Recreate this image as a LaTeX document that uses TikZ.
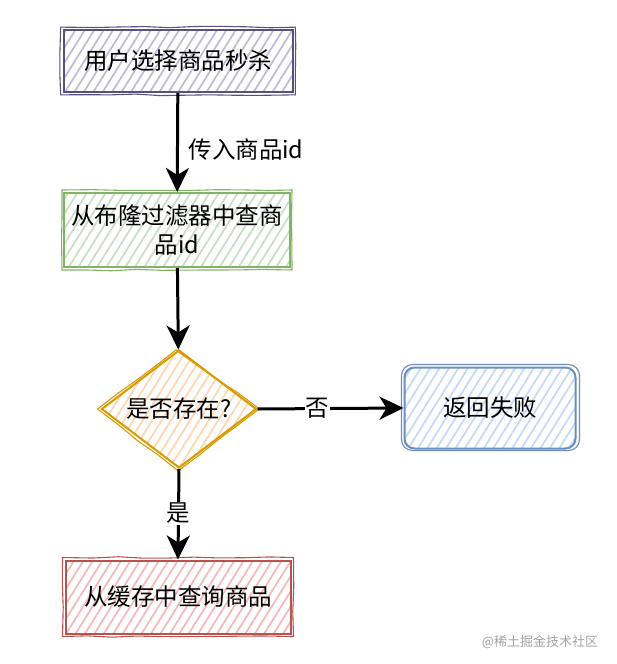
\documentclass[tikz,border=0pt]{standalone}
\usepackage{fontspec}
\setmainfont{Noto Sans CJK SC}
\usetikzlibrary{patterns.meta,arrows.meta,shapes.geometric,decorations.pathmorphing}
\definecolor{pD}{HTML}{56517E}\definecolor{pF}{HTML}{BEB9DA}
\definecolor{gD}{HTML}{82B366}\definecolor{gF}{HTML}{C3E0C0}
\definecolor{oD}{HTML}{D79B00}\definecolor{oF}{HTML}{FFD4AE}
\definecolor{bD}{HTML}{6C8EBF}\definecolor{bF}{HTML}{C2D9F8}
\definecolor{rD}{HTML}{B85450}\definecolor{rF}{HTML}{F3B8B5}
\definecolor{wm}{HTML}{A3A3A3}
\tikzset{
  x=1pt, y=-1pt,
  boxbase/.style={inner sep=0pt, line width=2pt, font=\fontsize{23.5}{29}\selectfont, align=center},
  hatch/.style={pattern={Lines[angle=58,distance=8pt,line width=1.7pt]}, pattern color=#1},
  sk/.style={draw=#1, line width=1.1pt, decorate, decoration={random steps, segment length=25pt, amplitude=0.8pt}},
  sk2/.style={draw=#1, line width=1.1pt},
  arr/.style={line width=3pt, -{Stealth[length=24pt,width=23pt,inset=7pt]}},
  lbl/.style={fill=white, inner sep=1pt, font=\fontsize{23.5}{29}\selectfont},
}
\begin{document}
\begin{tikzpicture}
\useasboundingbox (0,0) rectangle (616,664);
% box 1
\node[boxbase, draw=pD, hatch=pF, minimum width=229pt, minimum height=62pt] (n1) at (178,61) {用户选择商品秒杀};
\draw[sk=pD] ([shift={(-2,-2)}]n1.north west) rectangle ([shift={(2,2)}]n1.south east);
% box 2
\node[boxbase, draw=gD, hatch=gF, minimum width=226pt, minimum height=74pt] (n2) at (177,230) {从布隆过滤器中查商\\品id};
\draw[sk=gD] ([shift={(-1,-2)}]n2.north west) rectangle ([shift={(1,2)}]n2.south east);
% diamond
\node[boxbase, diamond, aspect=1.31, draw=oD, hatch=oF, minimum width=155pt, minimum height=118pt] (d) at (179,409) {\makebox[0pt]{是否存在?}};
\draw[sk=oD] ([shift={(-3,1)}]d.north) -- ([shift={(2,0)}]d.east) -- ([shift={(-1,2)}]d.south) -- ([shift={(-3,0)}]d.west) -- cycle;
% box 3
\node[boxbase, draw=bD, hatch=bF, rounded corners=10pt, minimum width=171pt, minimum height=81pt] (n3) at (490,408) {返回失败};
\draw[sk2=bD, rounded corners=11pt] ([shift={(-2,-2)}]n3.north west) rectangle ([shift={(3,1)}]n3.south east);
% box 4
\node[boxbase, draw=rD, hatch=rF, minimum width=225pt, minimum height=73pt] (n4) at (178,597) {从缓存中查询商品};
\draw[sk=rD] ([shift={(-2,-2)}]n4.north west) rectangle ([shift={(2,2)}]n4.south east);
% arrows
\draw[arr] (n1) -- (n2);
\node[anchor=west, font=\fontsize{23.5}{29}\selectfont] (l1) at (185,150) {传入商品id};
\draw[arr] (n2) -- (d);
\draw[arr] (d.east) -- node[lbl, pos=0.41] (l2) {否} (n3.west);
\draw[arr] (d.south) -- node[lbl, pos=0.49] (l3) {是} (n4.north);
% watermark
\node[text=wm, font=\fontsize{13}{15}\selectfont] (w) at (540,642) {@稀土掘金技术社区};
\end{tikzpicture}
\end{document}
